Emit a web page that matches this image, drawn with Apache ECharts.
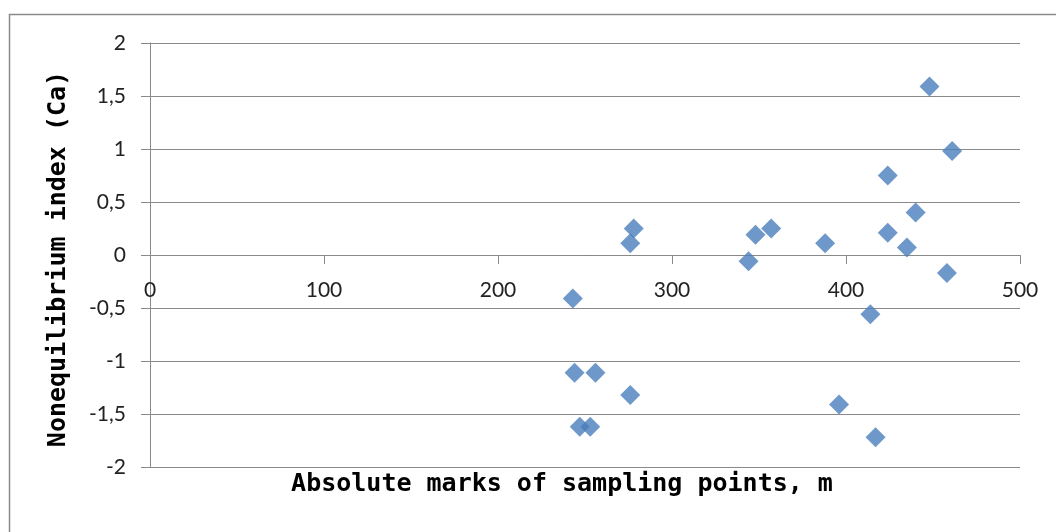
<!DOCTYPE html>
<html><head><meta charset="utf-8">
<script src="https://cdn.jsdelivr.net/npm/echarts@6/dist/echarts.min.js"></script>
<style>html,body{margin:0;padding:0;background:#fff}#c{width:1056px;height:532px}</style>
</head><body><div id="c"></div>
<script>
var xTitle = 'Absolute marks of sampling points, m';
var yTitle = 'Nonequilibrium index (Ca)';
var marks = [448, 461, 424, 440, 424, 435, 458, 388, 357, 348, 344, 278, 276, 243, 414, 244, 256, 276, 396, 247, 253, 417];
var index = [1.59, 0.98, 0.75, 0.40, 0.21, 0.07, -0.17, 0.11, 0.25, 0.19, -0.06, 0.25, 0.11, -0.41, -0.56, -1.11, -1.11, -1.32, -1.41, -1.62, -1.62, -1.72];
var points = marks.map(function(m, i){ return [m, index[i]]; });

var chart = echarts.init(document.getElementById('c'));
var gridCol = '#8a8a8a';
var labelFont = {fontFamily: 'Lato', fontSize: 21, color: '#222'};
chart.setOption({
  animation: false,
  grid: {left: 150, right: 36, top: 43, bottom: 65},
  xAxis: {
    type: 'value', min: 0, max: 500, interval: 100,
    offset: -212,
    axisLine: {show: true, onZero: false, lineStyle: {color: gridCol, width: 1}},
    axisTick: {show: true, length: 9, lineStyle: {color: gridCol}},
    axisLabel: Object.assign({margin: 25}, labelFont),
    splitLine: {show: false}
  },
  yAxis: {
    type: 'value', min: -2, max: 2, interval: 0.5,
    axisLine: {show: true, onZero: false, lineStyle: {color: gridCol, width: 1}},
    axisTick: {show: true, length: 9, lineStyle: {color: gridCol}},
    axisLabel: Object.assign({margin: 24, formatter: function(v){ return String(v).replace('.', ','); }}, labelFont),
    splitLine: {show: true, lineStyle: {color: gridCol, width: 1}}
  },
  graphic: [
    {type: 'rect', shape: {x: 9.5, y: 14.5, width: 1200, height: 700}, style: {fill: 'none', stroke: '#8a8a8a', lineWidth: 1.5}, silent: true, z: -10},
    {type: 'text', x: 562, y: 484, style: {text: xTitle, font: 'bold 25px "DejaVu Sans Mono"', fill: '#000', align: 'center', verticalAlign: 'middle'}},
    {type: 'text', x: 58, y: 259, rotation: Math.PI / 2, style: {text: yTitle, font: 'bold 25px "DejaVu Sans Mono"', fill: '#000', align: 'center', verticalAlign: 'middle'}}
  ],
  series: [{
    type: 'scatter', symbol: 'diamond', symbolSize: 20,
    itemStyle: {color: '#4a7ebb'},
    data: points
  }]
});
</script></body></html>
